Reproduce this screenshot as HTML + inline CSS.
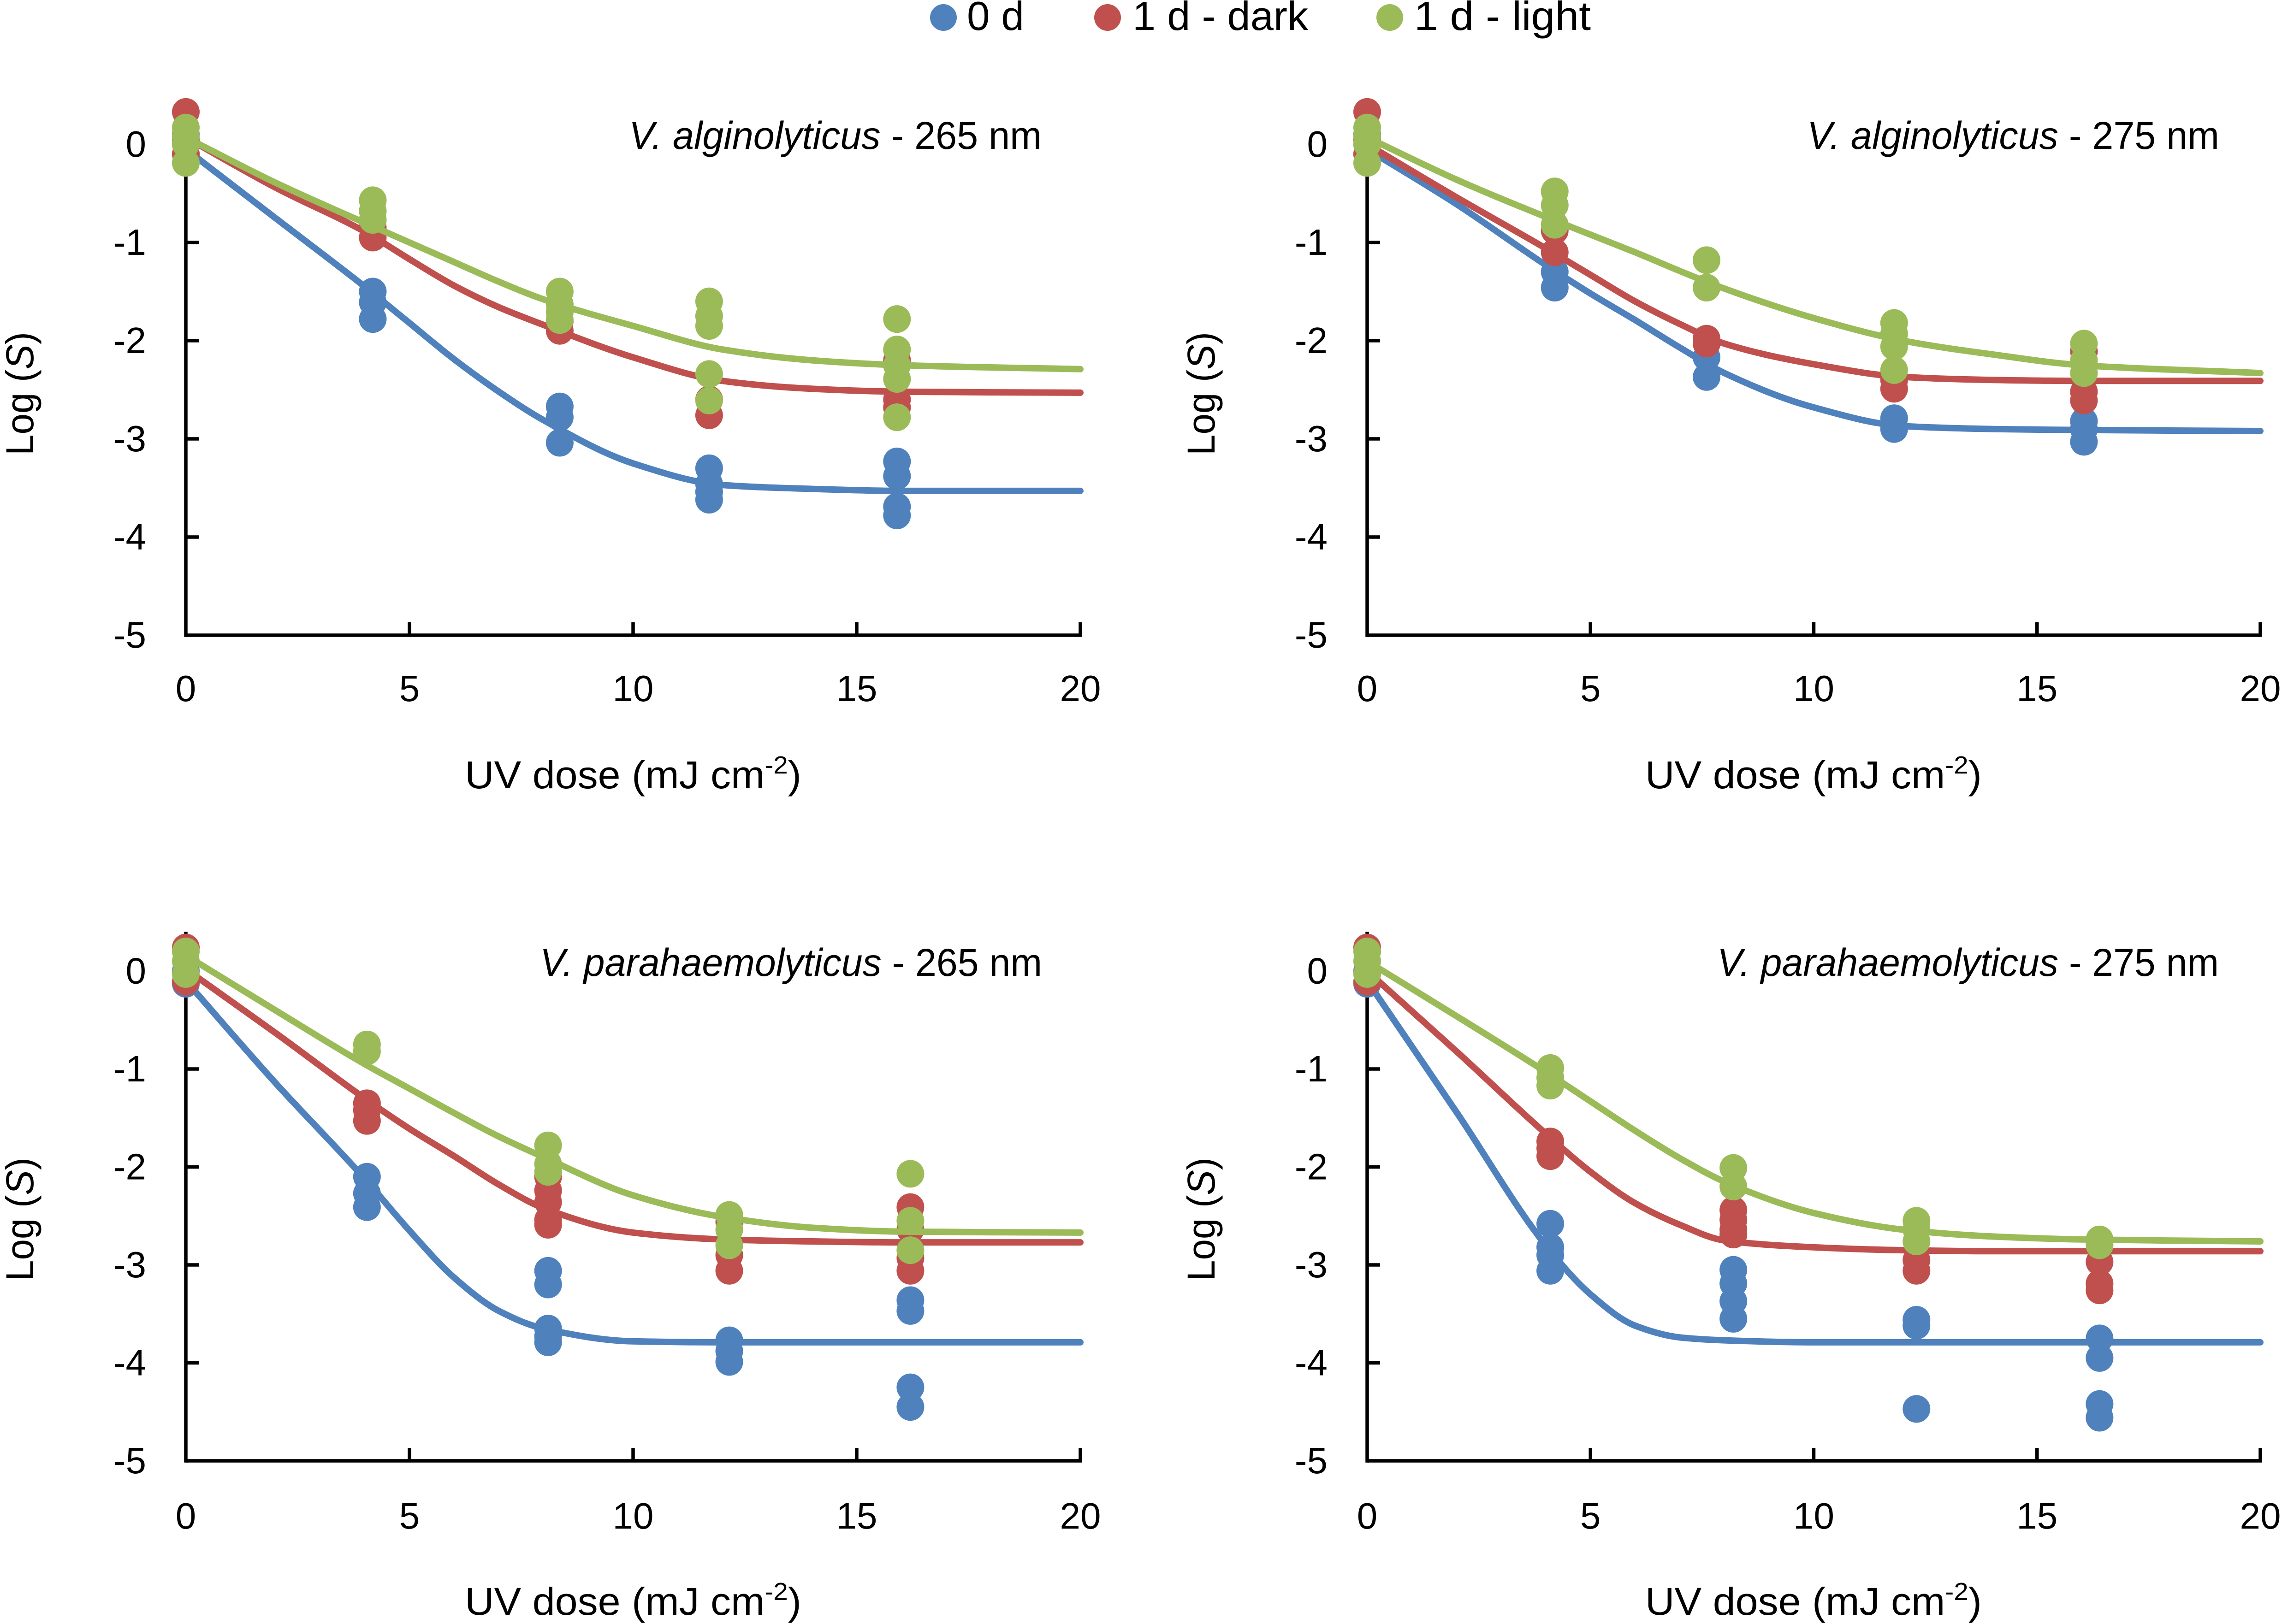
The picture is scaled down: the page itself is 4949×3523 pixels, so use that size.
<!DOCTYPE html>
<html lang="en">
<head>
<meta charset="utf-8">
<title>UV dose response of Vibrio species</title>
<style>
  html, body { margin: 0; padding: 0; background: #fff; }
  svg { display: block; }
  text { font-family: "Liberation Sans", sans-serif; fill: #000; }
</style>
</head>
<body>
<svg id="figure" xmlns="http://www.w3.org/2000/svg" width="4949" height="3523" viewBox="0 0 4949 3523">
  <rect x="0" y="0" width="4949" height="3523" fill="#ffffff"/>

  <g>
    <g>
      <circle cx="2046" cy="38" r="29" fill="#4F81BD"/>
      <text x="2097" y="65" font-size="88" textLength="124" lengthAdjust="spacingAndGlyphs">0 d</text>
    </g>
    <g>
      <circle cx="2402" cy="38" r="29" fill="#C0504D"/>
      <text x="2456" y="65" font-size="88" textLength="381" lengthAdjust="spacingAndGlyphs">1 d - dark</text>
    </g>
    <g>
      <circle cx="3014" cy="38" r="29" fill="#9BBB59"/>
      <text x="3067" y="65" font-size="88" textLength="383" lengthAdjust="spacingAndGlyphs">1 d - light</text>
    </g>
  </g>

  <g id="panel-a">
    <text x="1364" y="323" font-size="84" textLength="895" lengthAdjust="spacingAndGlyphs"><tspan font-style="italic">V. alginolyticus</tspan> - 265 nm</text>
    <text x="1008" y="1710" font-size="84" textLength="730" lengthAdjust="spacingAndGlyphs">UV dose (mJ cm<tspan font-size="54" dy="-32">-2</tspan><tspan dy="32">)</tspan></text>
    <text transform="translate(72 988) rotate(-90)" font-size="84" textLength="268" lengthAdjust="spacingAndGlyphs">Log (<tspan font-style="italic">S</tspan>)</text>
  </g>
  <g id="panel-b">
    <text x="3919" y="323" font-size="84" textLength="894" lengthAdjust="spacingAndGlyphs"><tspan font-style="italic">V. alginolyticus</tspan> - 275 nm</text>
    <text x="3568" y="1710" font-size="84" textLength="730" lengthAdjust="spacingAndGlyphs">UV dose (mJ cm<tspan font-size="54" dy="-32">-2</tspan><tspan dy="32">)</tspan></text>
    <text transform="translate(2634 988) rotate(-90)" font-size="84" textLength="268" lengthAdjust="spacingAndGlyphs">Log (<tspan font-style="italic">S</tspan>)</text>
  </g>
  <g id="panel-c">
    <text x="1171" y="2117" font-size="84" textLength="1089" lengthAdjust="spacingAndGlyphs"><tspan font-style="italic">V. parahaemolyticus</tspan> - 265 nm</text>
    <text x="1008" y="3503" font-size="84" textLength="730" lengthAdjust="spacingAndGlyphs">UV dose (mJ cm<tspan font-size="54" dy="-32">-2</tspan><tspan dy="32">)</tspan></text>
    <text transform="translate(72 2779) rotate(-90)" font-size="84" textLength="268" lengthAdjust="spacingAndGlyphs">Log (<tspan font-style="italic">S</tspan>)</text>
  </g>
  <g id="panel-d">
    <text x="3724" y="2117" font-size="84" textLength="1088" lengthAdjust="spacingAndGlyphs"><tspan font-style="italic">V. parahaemolyticus</tspan> - 275 nm</text>
    <text x="3568" y="3503" font-size="84" textLength="730" lengthAdjust="spacingAndGlyphs">UV dose (mJ cm<tspan font-size="54" dy="-32">-2</tspan><tspan dy="32">)</tspan></text>
    <text transform="translate(2634 2779) rotate(-90)" font-size="84" textLength="268" lengthAdjust="spacingAndGlyphs">Log (<tspan font-style="italic">S</tspan>)</text>
  </g>
</svg>

<script>
// Shared axis data
const xTickValues = [0, 5, 10, 15, 20];
const yTickValues = [0, -1, -2, -3, -4, -5];
const curveDose = [0, 2, 4, 5, 6, 7, 8, 10, 12, 14, 16, 20];

// Panel A: V. alginolyticus 265 nm
const aDose = [0, 4.18, 8.36, 11.7, 15.9];
const aBlue = [[0.1, 0, -0.1], [-1.5, -1.61, -1.78], [-2.67, -2.78, -3.04], [-3.3, -3.46, -3.54, -3.62], [-3.23, -3.38, -3.69, -3.78]];
const aRed = [[0.33, 0.05, -0.1], [-0.85, -0.95], [-1.8, -1.9], [-2.6, -2.76], [-2.2, -2.6, -2.68]];
const aGreen = [[0.17, 0.08, 0, -0.19], [-0.57, -0.68, -0.77], [-1.5, -1.63, -1.71, -1.79], [-1.6, -1.75, -1.85, -2.34, -2.61], [-1.78, -2.09, -2.25, -2.39, -2.78]];
const aBlueCurve = [-0.05, -0.75, -1.45, -1.82, -2.19, -2.52, -2.81, -3.25, -3.47, -3.51, -3.53, -3.53];
const aRedCurve = [0.07, -0.44, -0.89, -1.17, -1.44, -1.66, -1.84, -2.17, -2.41, -2.49, -2.52, -2.53];
const aGreenCurve = [0.07, -0.39, -0.8, -1, -1.2, -1.4, -1.58, -1.85, -2.09, -2.2, -2.25, -2.29];

// Panel B: V. alginolyticus 275 nm
const bDose = [0, 4.2, 7.6, 11.8, 16.05];
const bBlue = [[0.1, 0, -0.1], [-1.3, -1.46], [-2.17, -2.37], [-2.79, -2.9], [-2.82, -2.9, -3.03]];
const bRed = [[0.33, 0.05, -0.1], [-0.88, -1.1], [-1.98, -2.03], [-2.4, -2.49], [-2.11, -2.52, -2.61]];
const bGreen = [[0.17, 0.08, 0, -0.19], [-0.48, -0.62, -0.82], [-1.18, -1.46], [-1.82, -1.93, -2.06, -2.3], [-2.03, -2.2, -2.33]];
const bBlueCurve = [-0.05, -0.61, -1.23, -1.52, -1.79, -2.07, -2.33, -2.68, -2.87, -2.9, -2.91, -2.92];
const bRedCurve = [0, -0.54, -1.06, -1.33, -1.6, -1.83, -2.03, -2.24, -2.37, -2.4, -2.41, -2.41];
const bGreenCurve = [0.07, -0.36, -0.74, -0.92, -1.1, -1.29, -1.47, -1.77, -2, -2.14, -2.25, -2.33];

// Panel C: V. parahaemolyticus 265 nm
const cDose = [0, 4.05, 8.1, 12.15, 16.2];
const cBlue = [[0, -0.13], [-2.1, -2.27, -2.41], [-3.06, -3.2, -3.65, -3.73, -3.79], [-3.77, -3.88, -3.99], [-3.36, -3.47, -4.25, -4.45]];
const cRed = [[0.24, -0.11], [-1.35, -1.42, -1.53], [-2.1, -2.24, -2.36, -2.54, -2.59], [-2.56, -2.9, -3.06], [-2.41, -2.64, -2.93, -3.06]];
const cGreen = [[0.2, 0.1, -0.03], [-0.75, -0.82], [-1.78, -1.97, -2.05], [-2.49, -2.64, -2.8], [-2.07, -2.55, -2.85]];
const cBlueCurve = [-0.1, -1.14, -2.12, -2.65, -3.13, -3.47, -3.65, -3.78, -3.79, -3.79, -3.79, -3.79];
const cRedCurve = [0.02, -0.63, -1.3, -1.61, -1.89, -2.18, -2.42, -2.67, -2.74, -2.76, -2.77, -2.77];
const cGreenCurve = [0.16, -0.4, -0.95, -1.2, -1.45, -1.69, -1.9, -2.29, -2.51, -2.62, -2.66, -2.67];

// Panel D: V. parahaemolyticus 275 nm
const dDose = [0, 4.1, 8.2, 12.3, 16.4];
const dBlue = [[0, -0.13], [-2.58, -2.82, -2.9, -3.06], [-3.05, -3.19, -3.37, -3.55], [-3.56, -3.62, -4.47], [-3.75, -3.95, -4.42, -4.56]];
const dRed = [[0.24, -0.11], [-1.74, -1.81, -1.89], [-2.44, -2.54, -2.64, -2.69], [-2.95, -3.06], [-2.97, -3.19, -3.26]];
const dGreen = [[0.2, 0.1, -0.03], [-0.99, -1.09, -1.17], [-2.01, -2.2], [-2.55, -2.64, -2.76], [-2.74, -2.8]];
const dBlueCurve = [-0.1, -1.44, -2.8, -3.3, -3.62, -3.74, -3.77, -3.79, -3.79, -3.79, -3.79, -3.79];
const dRedCurve = [0, -0.82, -1.66, -2.05, -2.37, -2.59, -2.75, -2.82, -2.85, -2.86, -2.86, -2.86];
const dGreenCurve = [0.1, -0.46, -1.03, -1.33, -1.63, -1.91, -2.15, -2.47, -2.64, -2.71, -2.74, -2.76];

const NS = 'http://www.w3.org/2000/svg';
const seriesColor = { blue: '#4F81BD', red: '#C0504D', green: '#9BBB59' };

function make(tag, attrs, parent) {
  const el = document.createElementNS(NS, tag);
  for (const k in attrs) el.setAttribute(k, attrs[k]);
  parent.appendChild(el);
  return el;
}

// Monotone cubic path so the fitted curves never overshoot their plateau
function smoothPath(pts) {
  const n = pts.length;
  const dx = [];
  const slope = [];
  for (let i = 0; i < n - 1; i++) {
    dx.push(pts[i + 1][0] - pts[i][0]);
    slope.push((pts[i + 1][1] - pts[i][1]) / dx[i]);
  }
  const m = [slope[0]];
  for (let i = 1; i < n - 1; i++) {
    if (slope[i - 1] * slope[i] <= 0) {
      m.push(0);
    } else {
      const w1 = 2 * dx[i] + dx[i - 1];
      const w2 = dx[i] + 2 * dx[i - 1];
      m.push((w1 + w2) / (w1 / slope[i - 1] + w2 / slope[i]));
    }
  }
  m.push(slope[n - 2]);
  let d = 'M' + pts[0][0].toFixed(1) + ' ' + pts[0][1].toFixed(1);
  for (let i = 0; i < n - 1; i++) {
    const h = dx[i] / 3;
    d += 'C' + (pts[i][0] + h).toFixed(1) + ' ' + (pts[i][1] + m[i] * h).toFixed(1) + ' ' +
      (pts[i + 1][0] - h).toFixed(1) + ' ' + (pts[i + 1][1] - m[i + 1] * h).toFixed(1) + ' ' +
      pts[i + 1][0].toFixed(1) + ' ' + pts[i + 1][1].toFixed(1);
  }
  return d;
}

function drawPanel(groupId, frame, dose, markerSets, curveSets) {
  const g = document.getElementById(groupId);
  const xScale = v => frame.x0 + v * (frame.x20 - frame.x0) / 20;
  const yScale = v => frame.y0 - v * frame.unit;

  const axisColor = '#000000';
  const axisWidth = 7.5;
  const tickLen = 28;

  const yAxis = make('line', { x1: xScale(0), x2: xScale(0), y1: yScale(0.4), y2: yScale(-5) + axisWidth / 2, stroke: axisColor, 'stroke-width': axisWidth }, g);
  
  

  const xAxis = make('line', { x1: xScale(0), x2: xScale(20) + axisWidth / 2, y1: yScale(-5), y2: yScale(-5), stroke: axisColor, 'stroke-width': axisWidth }, g);
  
  

  yTickValues.forEach(v => {
    if (v > -5) {
      const tick = make('line', { x1: xScale(0), x2: xScale(0) + tickLen, y1: yScale(v), y2: yScale(v), stroke: axisColor, 'stroke-width': axisWidth }, g);
      
      
    }
    const label = make('text', { x: xScale(0) - 86, y: yScale(v) + 27, 'font-size': 80, 'text-anchor': 'end' }, g);
    
    
    label.textContent = String(v);
  });

  xTickValues.forEach(v => {
    if (v > 0) {
      const tick = make('line', { x1: xScale(v), x2: xScale(v), y1: yScale(-5), y2: yScale(-5) - tickLen, stroke: axisColor, 'stroke-width': axisWidth }, g);
      
      
    }
    const label = make('text', { x: xScale(v), y: yScale(-5) + frame.labelDrop, 'font-size': 80, 'text-anchor': 'middle' }, g);
    
    
    label.textContent = String(v);
  });

  ['blue', 'red', 'green'].forEach(key => {
    const color = seriesColor[key];
    const pts = curveDose.map((x, i) => [xScale(x), yScale(curveSets[key][i])]);
    const curve = make('path', { d: smoothPath(pts), fill: 'none', stroke: color, 'stroke-width': 14, 'stroke-linecap': 'round', 'stroke-linejoin': 'round' }, g);
    
    

    markerSets[key].forEach((values, doseIndex) => {
      values.forEach(v => {
        const dot = make('circle', { cx: xScale(dose[doseIndex]), cy: yScale(v), r: 30, fill: color }, g);
        
        
      });
    });
  });
}

drawPanel('panel-a', { x0: 403, x20: 2343, y0: 313, unit: 213, labelDrop: 143 }, aDose,
  { blue: aBlue, red: aRed, green: aGreen }, { blue: aBlueCurve, red: aRedCurve, green: aGreenCurve });
drawPanel('panel-b', { x0: 2965, x20: 4902, y0: 313, unit: 213, labelDrop: 143 }, bDose,
  { blue: bBlue, red: bRed, green: bGreen }, { blue: bBlueCurve, red: bRedCurve, green: bGreenCurve });
drawPanel('panel-c', { x0: 403, x20: 2343, y0: 2106.5, unit: 212.5, labelDrop: 147 }, cDose,
  { blue: cBlue, red: cRed, green: cGreen }, { blue: cBlueCurve, red: cRedCurve, green: cGreenCurve });
drawPanel('panel-d', { x0: 2965, x20: 4902, y0: 2106.5, unit: 212.5, labelDrop: 147 }, dDose,
  { blue: dBlue, red: dRed, green: dGreen }, { blue: dBlueCurve, red: dRedCurve, green: dGreenCurve });
</script>
</body>
</html>
